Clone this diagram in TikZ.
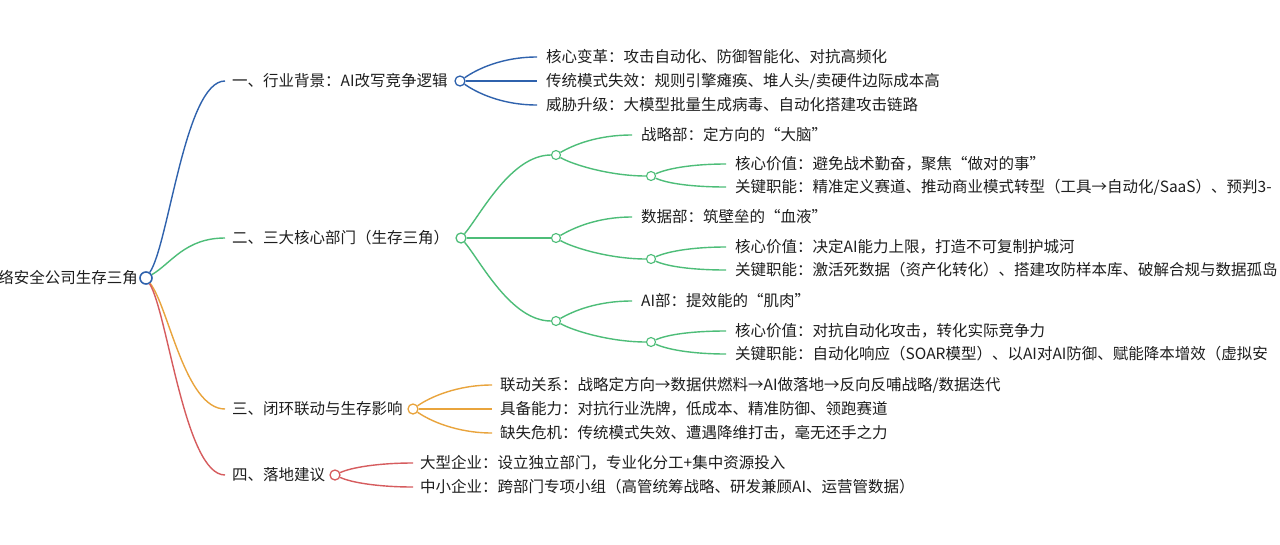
\documentclass[tikz,border=0pt]{standalone}
\usepackage{fontspec}
\setmainfont{Noto Sans CJK SC}
\definecolor{cB}{HTML}{2F62AD}
\definecolor{cG}{HTML}{4DBD78}
\definecolor{cO}{HTML}{E9A43C}
\definecolor{cR}{HTML}{D65C5E}
\definecolor{tx}{HTML}{1E1E1E}
\begin{document}
\begin{tikzpicture}[x=1pt,y=1pt,
  txt/.style={anchor=west,inner xsep=7pt,inner ysep=1pt,font=\fontsize{15.5}{18}\selectfont,text=tx},
  dot/.style={circle,draw,fill=white,line width=1.3pt,minimum size=10pt,inner sep=0pt},
  jdot/.style={dot,minimum size=9pt,line width=1.1pt},
  lnk/.style={line width=1.4pt},
  ]
\useasboundingbox (0,0) rectangle (1280,-544);
\fill[white] (0,0) rectangle (1280,-544);

% root
\node[txt,anchor=east,inner xsep=0pt] (root) at (138,-278) {网络安全公司生存三角};
\node[dot,draw=cB,line width=1.6pt,minimum size=12pt] (rc) at (146,-278) {};

% level 1
\node[txt] (n1) at (225,-81) {一、行业背景：AI改写竞争逻辑};
\node[dot,draw=cB] (c1) at (460,-81) {};
\node[txt] (n2) at (225,-238) {二、三大核心部门（生存三角）};
\node[dot,draw=cG] (c2) at (461,-238) {};
\node[txt] (n3) at (225,-409) {三、闭环联动与生存影响};
\node[dot,draw=cO] (c3) at (413,-409) {};
\node[txt] (n4) at (225,-475) {四、落地建议};
\node[dot,draw=cR] (c4) at (335,-475) {};

% blue leaves
\node[txt,inner xsep=9pt] (b1) at (537,-57) {核心变革：攻击自动化、防御智能化、对抗高频化};
\node[txt,inner xsep=9pt] (b2) at (537,-81) {传统模式失效：规则引擎瘫痪、堆人头/卖硬件边际成本高};
\node[txt,inner xsep=9pt] (b3) at (537,-105) {威胁升级：大模型批量生成病毒、自动化搭建攻击链路};

% green
\node[jdot,draw=cG] (g1) at (556,-155) {};
\node[jdot,draw=cG] (g2) at (556,-238) {};
\node[jdot,draw=cG] (g3) at (556,-321) {};

\node[txt,inner xsep=9pt] (s1) at (632,-135) {战略部：定方向的“大脑”};
\node[jdot,draw=cG] (s1c) at (651,-176) {};
\node[txt,inner xsep=9pt] (s1a) at (726,-164) {核心价值：避免战术勤奋，聚焦“做对的事”};
\node[txt,inner xsep=9pt] (s1b) at (726,-187) {关键职能：精准定义赛道、推动商业模式转型（工具→自动化/SaaS）、预判3-};

\node[txt,inner xsep=9pt] (s2) at (632,-217) {数据部：筑壁垒的“血液”};
\node[jdot,draw=cG] (s2c) at (651,-259) {};
\node[txt,inner xsep=9pt] (s2a) at (726,-247) {核心价值：决定AI能力上限，打造不可复制护城河};
\node[txt,inner xsep=9pt] (s2b) at (726,-270) {关键职能：激活死数据（资产化转化）、搭建攻防样本库、破解合规与数据孤岛};

\node[txt,inner xsep=9pt] (s3) at (632,-301) {AI部：提效能的“肌肉”};
\node[jdot,draw=cG] (s3c) at (651,-342) {};
\node[txt,inner xsep=9pt] (s3a) at (726,-331) {核心价值：对抗自动化攻击，转化实际竞争力};
\node[txt,inner xsep=9pt] (s3b) at (726,-354) {关键职能：自动化响应（SOAR模型）、以AI对AI防御、赋能降本增效（虚拟安};

% orange
\node[txt,inner xsep=8pt] (o1) at (492,-385) {联动关系：战略定方向→数据供燃料→AI做落地→反向反哺战略/数据迭代};
\node[txt,inner xsep=8pt] (o2) at (492,-409) {具备能力：对抗行业洗牌，低成本、精准防御、领跑赛道};
\node[txt,inner xsep=8pt] (o3) at (492,-433) {缺失危机：传统模式失效、遭遇降维打击，毫无还手之力};

% red
\node[txt,inner xsep=7pt] (r1) at (413,-463) {大型企业：设立独立部门，专业化分工+集中资源投入};
\node[txt,inner xsep=7pt] (r2) at (413,-487) {中小企业：跨部门专项小组（高管统筹战略、研发兼顾AI、运营管数据）};

% connectors root
\draw[lnk,cB] (rc) to[out=56,in=180,out distance=34pt,in distance=40pt] (n1.west);
\draw[lnk,cG] (rc) to[out=30,in=180,out distance=22pt,in distance=40pt] (n2.west);
\draw[lnk,cO] (rc) to[out=-52,in=180,out distance=30pt,in distance=40pt] (n3.west);
\draw[lnk,cR] (rc) to[out=-58,in=180,out distance=34pt,in distance=40pt] (n4.west);

% blue
\draw[lnk,cB] (c1) to[out=35,in=180,out distance=15pt,in distance=35pt] (b1.west);
\draw[lnk,cB] (c1) -- (b2.west);
\draw[lnk,cB] (c1) to[out=-35,in=180,out distance=15pt,in distance=35pt] (b3.west);

% green
\draw[lnk,cG] (c2) to[out=50,in=180,out distance=25pt,in distance=40pt] (g1);
\draw[lnk,cG] (c2) -- (g2);
\draw[lnk,cG] (c2) to[out=-50,in=180,out distance=25pt,in distance=40pt] (g3);

\draw[lnk,cG] (g1) to[out=30,in=180,out distance=15pt,in distance=35pt] (s1.west);
\draw[lnk,cG] (g1) to[out=-30,in=180,out distance=15pt,in distance=35pt] (s1c);
\draw[lnk,cG] (s1c) to[out=25,in=180,out distance=12pt,in distance=35pt] (s1a.west);
\draw[lnk,cG] (s1c) to[out=-25,in=180,out distance=12pt,in distance=35pt] (s1b.west);

\draw[lnk,cG] (g2) to[out=30,in=180,out distance=15pt,in distance=35pt] (s2.west);
\draw[lnk,cG] (g2) to[out=-30,in=180,out distance=15pt,in distance=35pt] (s2c);
\draw[lnk,cG] (s2c) to[out=25,in=180,out distance=12pt,in distance=35pt] (s2a.west);
\draw[lnk,cG] (s2c) to[out=-25,in=180,out distance=12pt,in distance=35pt] (s2b.west);

\draw[lnk,cG] (g3) to[out=30,in=180,out distance=15pt,in distance=35pt] (s3.west);
\draw[lnk,cG] (g3) to[out=-30,in=180,out distance=15pt,in distance=35pt] (s3c);
\draw[lnk,cG] (s3c) to[out=25,in=180,out distance=12pt,in distance=35pt] (s3a.west);
\draw[lnk,cG] (s3c) to[out=-25,in=180,out distance=12pt,in distance=35pt] (s3b.west);

% orange
\draw[lnk,cO] (c3) to[out=35,in=180,out distance=15pt,in distance=35pt] (o1.west);
\draw[lnk,cO] (c3) -- (o2.west);
\draw[lnk,cO] (c3) to[out=-35,in=180,out distance=15pt,in distance=35pt] (o3.west);

% red
\draw[lnk,cR] (c4) to[out=25,in=180,out distance=12pt,in distance=35pt] (r1.west);
\draw[lnk,cR] (c4) to[out=-25,in=180,out distance=12pt,in distance=35pt] (r2.west);
\end{tikzpicture}
\end{document}
